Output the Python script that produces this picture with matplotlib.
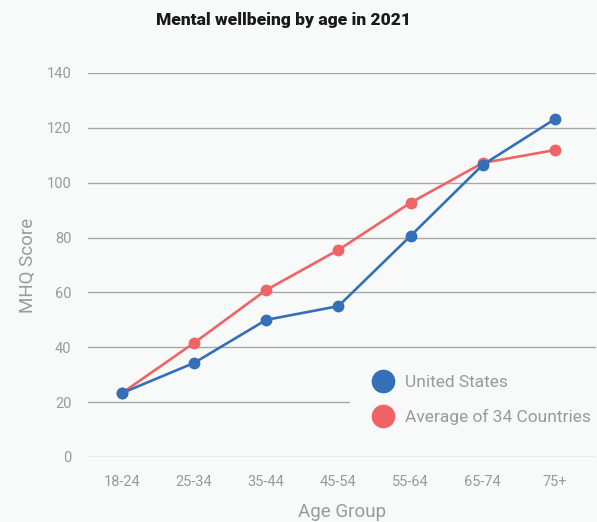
import matplotlib
matplotlib.use("Agg")
import matplotlib.pyplot as plt
from matplotlib.lines import Line2D

# data
age_groups = ["18-24", "25-34", "35-44", "45-54", "55-64", "65-74", "75+"]
us_scores = [23.3, 34.3, 50.0, 55.0, 80.6, 106.5, 123.2]
avg_scores = [23.3, 41.6, 60.9, 75.5, 92.7, 107.2, 111.9]
series_names = ["United States", "Average of 34 Countries"]

BG = "#f8f9f9"
BLUE = "#3470b8"
RED = "#f06466"
GREY = "#9a9a9a"

plt.rcParams["font.family"] = ["Roboto", "DejaVu Sans"]

fig = plt.figure(figsize=(5.97, 5.22), dpi=100, facecolor=BG)
ax = fig.add_axes([88 / 597, 1 - 457 / 522, 508 / 597, 384 / 522], facecolor=BG)

x = list(range(len(age_groups)))
ax.plot(x, avg_scores, color=RED, lw=1.9, marker="o", ms=7.5, zorder=3)
ax.plot(x, us_scores, color=BLUE, lw=1.9, marker="o", ms=7.5, zorder=4)

ax.set_xlim(-0.47, 6.57)
ax.set_ylim(0, 140)
ax.set_yticks(range(0, 141, 20))
ax.set_xticks(x)
ax.set_xticklabels(age_groups)
ax.grid(axis="y", color="#a8a8a8", lw=1)
ax.set_axisbelow(True)
for s in ax.spines.values():
    s.set_visible(False)
ax.tick_params(length=0, labelsize=10.5, labelcolor=GREY)
ax.tick_params(axis="y", pad=12)
ax.tick_params(axis="x", pad=13)

ax.set_ylabel("MHQ Score", fontsize=13.5, color=GREY, labelpad=7)
ax.set_xlabel("Age Group", fontsize=13.5, color=GREY, labelpad=10)

fig.text(284 / 597, 1 - 20 / 522, "Mental wellbeing by age in 2021",
         ha="center", va="center", fontsize=12.5, fontweight=900, color="#1a1a1a")

handles = [Line2D([], [], ls="", marker="o", ms=16, color=c) for c in (BLUE, RED)]
leg = ax.legend(handles, series_names, loc="center left",
                bbox_to_anchor=((350 - 88) / 508, (457 - 400) / 384),
                frameon=True, facecolor=BG, edgecolor="none", framealpha=1,
                fontsize=12.5, labelcolor=GREY, handlelength=2.0,
                handletextpad=0.27, labelspacing=1.05, borderpad=0.9,
                borderaxespad=0)
leg.get_frame().set_boxstyle("square", pad=0)

fig.savefig("out.png", dpi=100, facecolor=BG)
